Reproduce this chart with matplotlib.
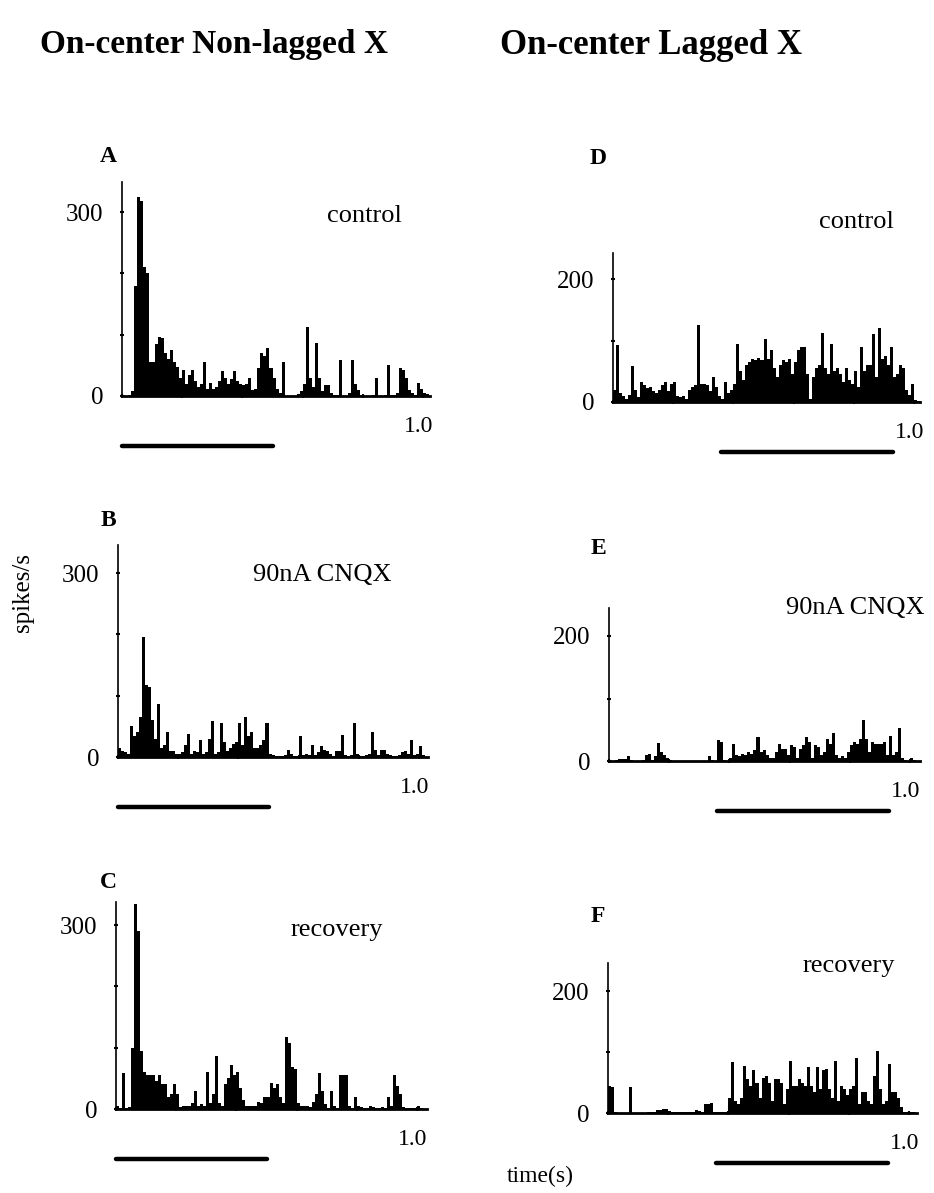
import numpy as np
from matplotlib import pyplot as plt
from matplotlib.ticker import MultipleLocator

plt.rcParams['font.family'] = ['Liberation Serif', 'DejaVu Serif']

W, H = 934, 1193
BIN = 0.01

# PSTH bin heights (spikes/s), 10 ms bins starting at t = 0
control_nonlagged = [
    0, 0, 2, 8, 180, 325, 318, 210, 200, 55,
    55, 85, 97, 95, 70, 60, 75, 55, 48, 30,
    42, 20, 35, 42, 25, 15, 20, 55, 12, 22,
    12, 15, 25, 40, 30, 20, 28, 40, 25, 20,
    18, 20, 30, 10, 12, 45, 70, 65, 78, 45,
    30, 12, 5, 56, 0, 0, 0, 0, 3, 8,
    20, 112, 30, 15, 86, 30, 8, 18, 18, 5,
    2, 2, 58, 0, 0, 5, 58, 20, 10, 2,
    0, 0, 0, 2, 30, 0, 0, 2, 50, 2,
    2, 5, 45, 42, 30, 10, 5, 2, 22, 12,
    5, 3,
]
cnqx_nonlagged = [
    15, 10, 8, 5, 50, 35, 40, 65, 195, 118,
    115, 60, 30, 87, 15, 20, 40, 10, 10, 5,
    5, 8, 20, 38, 5, 10, 8, 28, 5, 8,
    30, 58, 5, 8, 55, 25, 10, 15, 22, 25,
    56, 20, 66, 35, 40, 15, 15, 20, 28, 55,
    5, 3, 2, 2, 2, 3, 12, 5, 2, 2,
    35, 3, 5, 3, 20, 3, 8, 18, 12, 10,
    5, 2, 10, 10, 36, 3, 2, 3, 55, 5,
    2, 2, 3, 5, 40, 12, 3, 12, 12, 5,
    3, 2, 2, 3, 8, 10, 5, 28, 3, 5,
    18, 3,
]
recovery_nonlagged = [
    5, 2, 58, 2, 3, 100, 335, 290, 95, 60,
    55, 55, 55, 45, 55, 40, 40, 20, 25, 40,
    25, 3, 5, 5, 5, 10, 30, 5, 8, 5,
    60, 10, 25, 87, 10, 5, 40, 50, 72, 55,
    60, 35, 15, 5, 5, 5, 5, 12, 10, 20,
    20, 42, 35, 40, 20, 10, 118, 108, 68, 65,
    10, 5, 5, 5, 3, 12, 25, 58, 30, 8,
    2, 30, 5, 2, 55, 55, 56, 5, 2, 20,
    5, 3, 2, 2, 5, 3, 2, 2, 3, 2,
    20, 5, 56, 38, 25, 3, 2, 2, 2, 2,
    5, 2,
]
control_lagged = [
    20, 92, 15, 10, 5, 12, 58, 20, 8, 33,
    28, 22, 25, 18, 15, 20, 28, 32, 18, 30,
    33, 10, 8, 10, 5, 20, 25, 28, 125, 30,
    30, 28, 18, 40, 25, 10, 5, 32, 15, 20,
    30, 95, 50, 35, 60, 65, 70, 68, 72, 68,
    102, 70, 85, 55, 40, 60, 68, 65, 70, 45,
    65, 85, 90, 90, 45, 5, 40, 55, 60, 112,
    55, 45, 95, 50, 55, 45, 32, 55, 35, 30,
    50, 25, 90, 50, 60, 60, 110, 40, 120, 70,
    75, 60, 90, 40, 45, 60, 55, 20, 12, 30,
    3, 2,
]
cnqx_lagged = [
    0, 0, 2, 3, 4, 3, 8, 2, 0, 0,
    0, 2, 10, 12, 2, 8, 29, 15, 10, 5,
    2, 0, 0, 0, 0, 0, 0, 0, 0, 0,
    0, 0, 0, 8, 2, 0, 34, 30, 2, 0,
    5, 28, 10, 8, 12, 10, 15, 12, 18, 39,
    15, 18, 10, 5, 5, 15, 28, 20, 20, 10,
    25, 22, 5, 20, 25, 38, 30, 5, 25, 22,
    10, 15, 35, 28, 45, 10, 5, 8, 5, 15,
    25, 30, 28, 35, 65, 35, 15, 30, 28, 28,
    28, 30, 10, 40, 10, 15, 53, 5, 2, 0,
    5, 2,
]
recovery_lagged = [
    44, 42, 2, 0, 0, 0, 0, 42, 0, 0,
    0, 0, 0, 1, 1, 2, 5, 5, 6, 6,
    3, 1, 1, 1, 1, 1, 1, 1, 2, 5,
    3, 2, 15, 15, 16, 2, 1, 1, 1, 1,
    25, 83, 20, 15, 25, 77, 55, 45, 70, 50,
    25, 58, 60, 50, 20, 55, 55, 50, 15, 40,
    85, 45, 45, 55, 50, 45, 75, 45, 35, 75,
    40, 70, 72, 40, 25, 85, 20, 45, 40, 30,
    40, 45, 90, 15, 35, 35, 20, 15, 60, 101,
    40, 15, 20, 80, 35, 35, 25, 10, 2, 1,
    1, 1,
]

letters = ['A', 'B', 'C', 'D', 'E', 'F']
conditions = ['control', '90nA CNQX', 'recovery'] * 2
series = [control_nonlagged, cnqx_nonlagged, recovery_nonlagged,
          control_lagged, cnqx_lagged, recovery_lagged]
y_label_top = [300, 300, 300, 200, 200, 200]
stim_on = [0.0, 0.0, 0.0, 0.36, 0.36, 0.36]
stim_off = [0.5, 0.5, 0.5, 0.93, 0.93, 0.93]

# layout in pixels: spine x, right end, baseline y, top of y spine, px per spike/s
boxes = [
    (122, 430, 396, 182, 0.613),
    (118, 428, 757, 545, 0.613),
    (116, 427, 1109, 902, 0.613),
    (613, 920, 402, 253, 0.615),
    (609, 920, 761, 608, 0.625),
    (608, 917, 1113, 963, 0.610),
]
letter_pos = [(108, 156), (108, 520), (108, 883), (598, 158), (598, 549), (598, 916)]
cond_pos = [(364, 216), (322, 575), (337, 930), (856, 222), (855, 608), (849, 966)]

fig = plt.figure(figsize=(W / 100, H / 100), dpi=100)

for k in range(6):
    x0, x1, yb, yt, s = boxes[k]
    ax = fig.add_axes([x0 / W, 1 - yb / H, (x1 - x0) / W, (yb - yt) / H])
    vals = np.array(series[k], dtype=float)
    t = np.arange(len(vals)) * BIN
    ax.bar(t, vals, width=BIN, align='edge', color='black', linewidth=0)
    ax.set_xlim(0, (x1 - x0) / 301)
    ax.set_ylim(0, (yb - yt) / s)

    for side in ['top', 'right']:
        ax.spines[side].set_visible(False)
    ax.spines['left'].set_linewidth(1.2)
    ax.spines['bottom'].set_linewidth(2.0)

    ax.set_yticks([0, y_label_top[k]])
    ax.set_yticklabels(['0', str(y_label_top[k])])
    ax.yaxis.set_minor_locator(MultipleLocator(100))
    ax.tick_params(axis='y', which='both', direction='inout', length=3,
                   width=1.5, pad=12, labelsize=18)
    ax.xaxis.set_major_locator(MultipleLocator(0.2))
    ax.tick_params(axis='x', direction='inout', length=3, width=1.5,
                   labelbottom=False)

    ax.annotate('1.0', xy=(1.0, 0), xytext=(-3, -22), textcoords='offset points',
                ha='center', va='center', fontsize=17, annotation_clip=False)

    # stimulus bar under each histogram
    ax.plot([stim_on[k], stim_off[k]], [-50 / s, -50 / s], color='black',
            linewidth=3.2, solid_capstyle='round', clip_on=False)

    lx, ly = letter_pos[k]
    fig.text(lx / W, 1 - ly / H, letters[k], fontsize=17, fontweight='bold',
             ha='center', va='center')
    cx, cy = cond_pos[k]
    fig.text(cx / W, 1 - cy / H, conditions[k], fontsize=19,
             ha='center', va='center')

fig.text(40 / W, 1 - 45 / H, 'On-center Non-lagged X', fontsize=24,
         fontweight='bold', ha='left', va='center')
fig.text(500 / W, 1 - 45 / H, 'On-center Lagged X', fontsize=25,
         fontweight='bold', ha='left', va='center')
fig.text(23 / W, 1 - 592 / H, 'spikes/s', fontsize=18, rotation=90,
         ha='center', va='center')
fig.text(540 / W, 1 - 1176 / H, 'time(s)', fontsize=17,
         ha='center', va='center')

fig.savefig('out.png', dpi=100, facecolor='white')
